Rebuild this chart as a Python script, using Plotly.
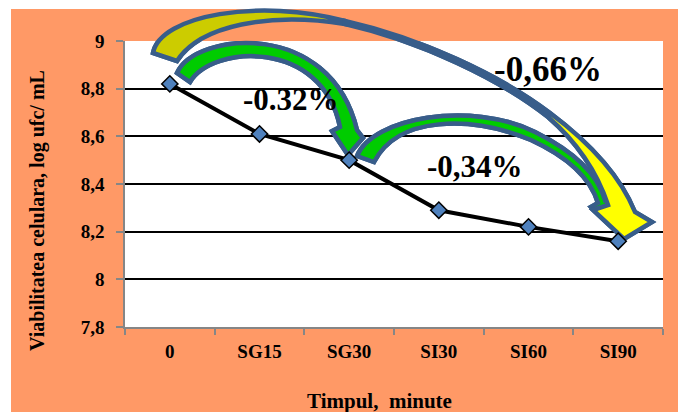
import plotly.graph_objects as go

# ---------------- data ----------------
categories = ["0", "SG15", "SG30", "SI30", "SI60", "SI90"]
viability = [8.82, 8.61, 8.50, 8.29, 8.22, 8.16]
y_tick_values = [7.8, 8.0, 8.2, 8.4, 8.6, 8.8, 9.0]
y_tick_labels = ["7,8", "8", "8,2", "8,4", "8,6", "8,8", "9"]
change_labels = ["-0.32%", "-0,34%", "-0,66%"]
y_title = "Viabilitatea celulara, log ufc/ mL"
x_title = "Timpul,\u00a0 minute"

# ---------------- layout geometry (pixels) ----------------
W, H = 678, 412
PL, PR, PT, PB = 125, 663, 41, 327
YMIN, YMAX = 7.8, 9.0
NCAT = len(categories)

def to_paper(p):
    x, y = p
    return ((x - PL) / (PR - PL), (PB - y) / (PB - PT))

def to_data(p):
    x, y = p
    return ((x - PL) / ((PR - PL) / NCAT) - 0.5,
            YMAX - (y - PT) / ((PB - PT) / (YMAX - YMIN)))

def path_str(cmds, conv):
    out = []
    for c, pts in cmds:
        s = c
        s += " ".join("%.5f,%.5f" % conv(p) for p in pts)
        out.append(s)
    return " ".join(out)

FONT = "Liberation Serif, Times New Roman, serif"
OUTLINE = "#385D8A"

# decorative curved arrows (pixel geometry)
arrow3 = [("M", [(357, 156)]),
          ("C", [(372, 118), (470, 100), (535, 132)]),
          ("C", [(575, 152), (598, 175), (605, 200)]),
          ("L", [(614, 197)]), ("L", [(610, 224)]), ("L", [(591, 207)]),
          ("L", [(598, 203)]),
          ("C", [(591, 180), (570, 158), (531, 140)]),
          ("C", [(470, 115), (398, 116), (374, 162)]),
          ("Z", [])]
big_left = [("M", [(153, 53)]),
            ("C", [(160, 15), (260, -2), (345, 21)]),
            ("L", [(345, 24)]),
            ("C", [(270, 12), (200, 25), (177, 61)]),
            ("Z", [])]
big_right = [("M", [(345, 21)]),
             ("C", [(420, 38), (500, 75), (550, 113)]),
             ("C", [(590, 143), (620, 175), (635, 212)]),
             ("L", [(652, 222)]), ("L", [(624, 239)]), ("L", [(593, 210)]),
             ("L", [(608, 205)]),
             ("C", [(598, 175), (578, 143), (548, 117)]),
             ("C", [(500, 79), (420, 41), (345, 24)]),
             ("Z", [])]
arrow2 = [("M", [(177, 73)]),
          ("C", [(195, 32), (330, 18), (357, 130)]),
          ("L", [(363, 138)]), ("L", [(348, 155)]), ("L", [(332, 131)]),
          ("L", [(340, 127)]),
          ("C", [(322, 38), (212, 45), (190, 82)]),
          ("Z", [])]

pieces = [(arrow3, "#00CC00"), (big_left, "#CCCC00"), (big_right, "#FFFF00"), (arrow2, "#00CC00")]

shapes = []
# white margins of the original picture (top strip and left strip)
shapes.append(dict(type="rect", xref="paper", yref="paper", layer="below",
                   x0=to_paper((0, 0))[0], x1=to_paper((W, 0))[0],
                   y0=to_paper((0, 9))[1], y1=to_paper((0, 0))[1],
                   fillcolor="white", line=dict(width=0)))
shapes.append(dict(type="rect", xref="paper", yref="paper", layer="below",
                   x0=to_paper((0, 0))[0], x1=to_paper((11, 0))[0],
                   y0=to_paper((0, H))[1], y1=to_paper((0, 0))[1],
                   fillcolor="white", line=dict(width=0)))
for cmds, fill in pieces:
    # copy outside the plot area (below grid) and copy inside (above grid, below line)
    shapes.append(dict(type="path", xref="paper", yref="paper", layer="below",
                       path=path_str(cmds, to_paper), fillcolor=fill,
                       line=dict(color=OUTLINE, width=4.5)))
for cmds, fill in pieces:
    shapes.append(dict(type="path", xref="x", yref="y", layer="between",
                       path=path_str(cmds, to_data), fillcolor=fill,
                       line=dict(color=OUTLINE, width=4.5)))

fig = go.Figure()
fig.add_trace(go.Scatter(
    x=categories, y=viability, mode="lines+markers",
    line=dict(color="black", width=4),
    marker=dict(symbol="diamond", size=12.5, color="#4F81BD",
                line=dict(color="black", width=1.5)),
    showlegend=False, hoverinfo="skip"))

annotations = []
for txt, pos, size in zip(change_labels, [(291, 99), (475, 166), (548, 69)], [31, 31, 35]):
    px, py = to_paper(pos)
    annotations.append(dict(text=txt, x=px, y=py, xref="paper", yref="paper",
                            showarrow=False, xanchor="center", yanchor="middle",
                            font=dict(family=FONT, size=size, color="black", weight="bold")))
px, py = to_paper((37, 211))
annotations.append(dict(text=y_title, x=px, y=py, xref="paper", yref="paper", textangle=-90,
                        showarrow=False, xanchor="center", yanchor="middle",
                        font=dict(family=FONT, size=20, color="black", weight="bold")))
px, py = to_paper((379, 401))
annotations.append(dict(text=x_title, x=px, y=py, xref="paper", yref="paper",
                        showarrow=False, xanchor="center", yanchor="middle",
                        font=dict(family=FONT, size=21, color="black", weight="bold")))

fig.update_layout(
    width=W, height=H,
    margin=dict(l=PL, r=W - PR, t=PT, b=H - PB, autoexpand=False),
    paper_bgcolor="#FF9966", plot_bgcolor="white",
    shapes=shapes, annotations=annotations,
    xaxis=dict(type="category", range=[-0.5, NCAT - 0.5], showgrid=False, zeroline=False,
               showline=True, linecolor="#868686", linewidth=1.5,
               ticks="outside", tickson="boundaries", ticklen=6, tickwidth=1.5,
               tickcolor="#868686", ticklabelstandoff=6,
               tickfont=dict(family=FONT, size=19, color="black", weight="bold")),
    yaxis=dict(range=[YMIN, YMAX], tickvals=y_tick_values, ticktext=y_tick_labels,
               showgrid=True, gridcolor="black", gridwidth=1.5, zeroline=False,
               showline=True, linecolor="#868686", linewidth=1.5,
               ticks="outside", ticklen=7, tickwidth=1.5, tickcolor="#868686",
               ticklabelstandoff=8,
               tickfont=dict(family=FONT, size=19, color="black", weight="bold")),
)

fig.write_html("out.html")
